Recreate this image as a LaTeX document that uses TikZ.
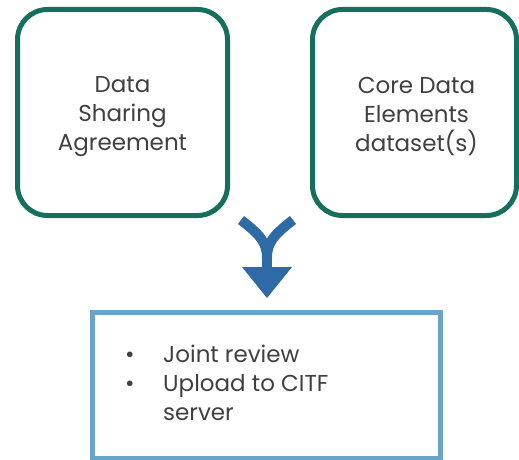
\documentclass[tikz,border=0pt]{standalone}
\usepackage{fontspec}
\setmainfont{Poppins}
\usepackage{xcolor}
\usetikzlibrary{positioning}

\definecolor{boxgreen}{RGB}{22,110,92}
\definecolor{boxblue}{RGB}{106,164,202}
\definecolor{arrowblue}{RGB}{46,106,166}
\definecolor{textgray}{RGB}{64,64,64}

\tikzset{
  inbox/.style={draw=boxgreen, line width=5pt, rounded corners=30pt,
    minimum width=210pt, minimum height=206pt},
  boxtext/.style={align=center, text=textgray,
    font=\fontsize{23}{29}\selectfont, inner sep=0pt},
  outbox/.style={draw=boxblue, line width=5pt,
    minimum width=348pt, minimum height=146pt},
  bullettext/.style={text=textgray, font=\fontsize{23}{29}\selectfont,
    inner sep=0pt, anchor=north west}
}

\begin{document}
\begin{tikzpicture}[x=1pt, y=-1pt]
    \useasboundingbox (0,0) rectangle (519,460);
    % input boxes
    \node[inbox] (dsa) at (122.5,112.5) {};
    \node[boxtext] (dsa-text) at ([yshift=-4pt]dsa.center) {Data\\Sharing\\Agreement};
    \node[inbox, minimum width=204pt] (cde) at (414.5,112.5) {};
    \node[boxtext] (cde-text) at ([yshift=-4pt,xshift=2pt]cde.center) {Core Data\\Elements\\dataset(s)};
    % output box
    \node[outbox] (upl) at (266.5,385.5) {};
    \node[bullettext, below right=32pt and 35pt of upl.north west] (steps)
        {\begin{tabular}{@{}p{38pt}@{}l@{}}
            \textbullet & Joint review\\
            \textbullet & Upload to CITF\\
                        & server
         \end{tabular}};
    % merge arrow
    \draw[arrowblue, line width=10pt] (241,220) .. controls (262,236) and (267,244) .. (267,258);
    \draw[arrowblue, line width=10pt] (293,220) .. controls (272,236) and (267,244) .. (267,258);
    \draw[arrowblue, line width=10pt] (267,250) -- (267,268);
    \fill[arrowblue] (242,267) -- (292,267) -- (267,298) -- cycle;
\end{tikzpicture}
\end{document}
